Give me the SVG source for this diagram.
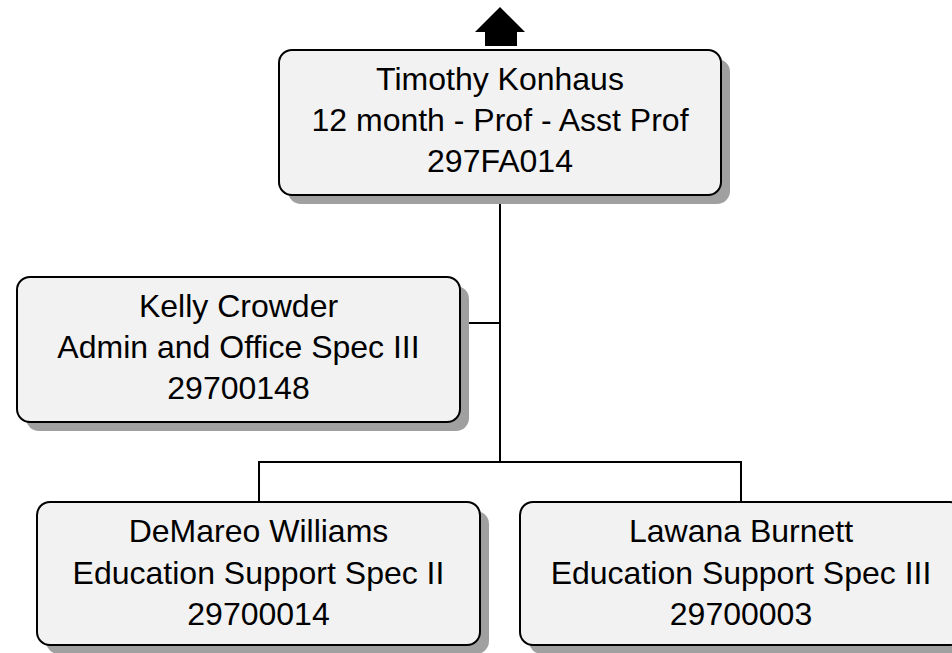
<svg xmlns="http://www.w3.org/2000/svg" width="952" height="653" viewBox="0 0 952 653">
<style>
.shadow{fill:#a0a0a0;}
.box{fill:#f2f2f2;stroke:#000;stroke-width:2;}
.t{font-family:"Liberation Sans",Arial,sans-serif;font-size:32px;fill:#000;text-anchor:middle;}
.c{fill:none;stroke:#000;stroke-width:2;}
</style>
<rect width="952" height="653" fill="#fff"/>
<g id="connectors">
<polyline class="c" points="500,195 500,462"/>
<polyline class="c" points="460,323 500,323"/>
<polyline class="c" points="259,502 259,462 741,462 741,502"/>
<polygon points="475,32 500,7 525,32 517,32 517,46 485,46 485,32" fill="#000"/>
</g>
<g id="n1">
<rect class="shadow" x="288" y="59" width="442" height="145" rx="13"/>
<rect class="box" x="279" y="50" width="442" height="145" rx="13"/>
<text class="t" x="500" y="90">Timothy Konhaus</text>
<text class="t" x="500" y="131">12 month - Prof - Asst Prof</text>
<text class="t" x="500" y="172">297FA014</text>
</g>
<g id="n2">
<rect class="shadow" x="26" y="286" width="443" height="145" rx="13"/>
<rect class="box" x="17" y="277" width="443" height="145" rx="13"/>
<text class="t" x="238.5" y="317">Kelly Crowder</text>
<text class="t" x="238.5" y="358">Admin and Office Spec III</text>
<text class="t" x="238.5" y="399">29700148</text>
</g>
<g id="n3">
<rect class="shadow" x="46" y="511" width="443" height="143" rx="13"/>
<rect class="box" x="37" y="502" width="443" height="143" rx="13"/>
<text class="t" x="258.5" y="542">DeMareo Williams</text>
<text class="t" x="258.5" y="584">Education Support Spec II</text>
<text class="t" x="258.5" y="625">29700014</text>
</g>
<g id="n4">
<rect class="shadow" x="529" y="511" width="443" height="143" rx="13"/>
<rect class="box" x="520" y="502" width="443" height="143" rx="13"/>
<text class="t" x="741" y="542">Lawana Burnett</text>
<text class="t" x="741" y="584">Education Support Spec III</text>
<text class="t" x="741" y="625">29700003</text>
</g>
</svg>
